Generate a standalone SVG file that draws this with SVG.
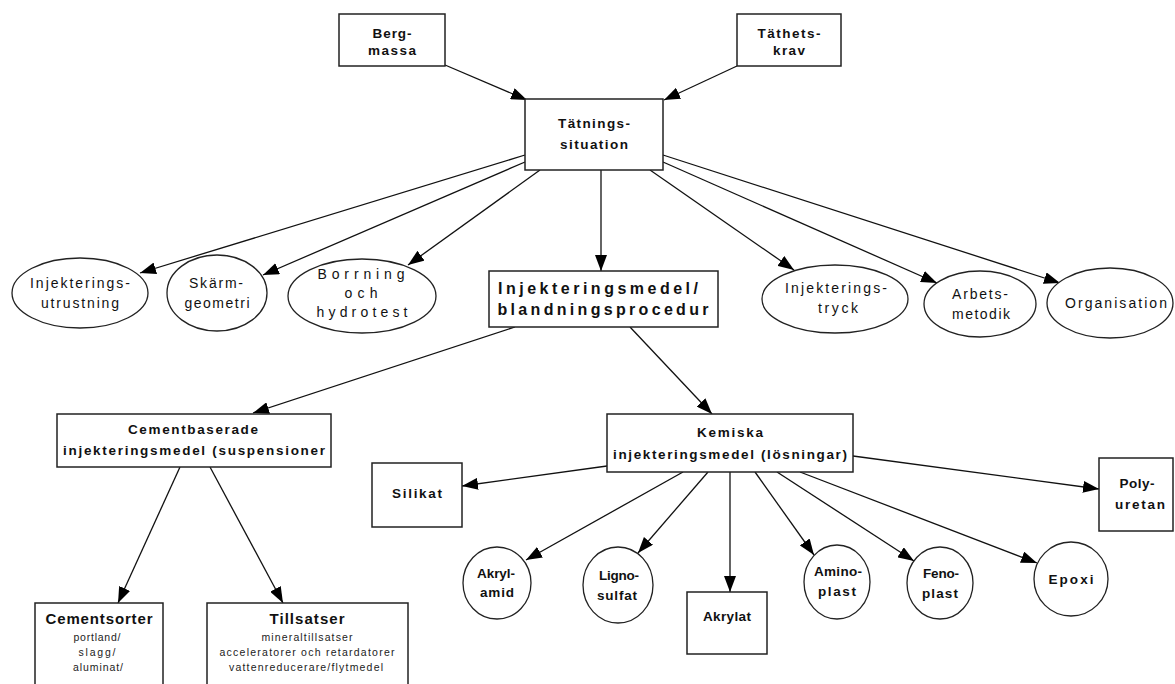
<svg xmlns="http://www.w3.org/2000/svg" width="1175" height="684" viewBox="0 0 1175 684">
<style>
.box{fill:#fff;stroke:#222;stroke-width:1.5}
.ell{fill:#fff;stroke:#222;stroke-width:1.3}
.b{font-family:"Liberation Sans",Arial,sans-serif;font-weight:bold;font-size:13.5px;fill:#111;text-anchor:middle}
.big{font-size:16px}
.mid{font-size:15px}
.r{font-family:"Liberation Sans",Arial,sans-serif;font-size:14px;fill:#111;text-anchor:middle}
.s{font-family:"Liberation Sans",Arial,sans-serif;font-size:10.5px;fill:#222;text-anchor:middle}
.c line{stroke:#111;stroke-width:1.3;marker-end:url(#ah)}
</style>
<defs>
<marker id="ah" viewBox="0 0 16 12" refX="16" refY="6" markerWidth="16" markerHeight="12" markerUnits="userSpaceOnUse" orient="auto">
<path d="M0,0 L16,6 L0,12 z" fill="#000"/>
</marker>
</defs>
<rect width="1175" height="684" fill="#fff"/>
<g class="c" id="connectors">
<line x1="445" y1="65" x2="527" y2="100"/>
<line x1="737" y1="66" x2="664" y2="100"/>
<line x1="525" y1="155" x2="140" y2="273"/>
<line x1="525" y1="162" x2="263" y2="275"/>
<line x1="540" y1="170" x2="408" y2="265"/>
<line x1="601" y1="170" x2="601" y2="271"/>
<line x1="650" y1="170" x2="794" y2="270"/>
<line x1="663" y1="162" x2="937" y2="283"/>
<line x1="663" y1="155" x2="1060" y2="283"/>
<line x1="515" y1="327" x2="253" y2="413"/>
<line x1="630" y1="327" x2="712" y2="414"/>
<line x1="180" y1="467" x2="118" y2="603"/>
<line x1="210" y1="467" x2="283" y2="603"/>
<line x1="607" y1="466" x2="462" y2="486"/>
<line x1="853" y1="456" x2="1099" y2="489"/>
<line x1="683" y1="472" x2="526" y2="560"/>
<line x1="708" y1="472" x2="638" y2="553"/>
<line x1="730" y1="472" x2="730" y2="592"/>
<line x1="755" y1="472" x2="814" y2="555"/>
<line x1="777" y1="472" x2="914" y2="561"/>
<line x1="800" y1="472" x2="1037" y2="563"/>
</g>
<g id="bergmassa">
<rect class="box" x="339" y="14" width="106" height="52"/>
<text class="b" x="392" y="38" textLength="39">Berg-</text>
<text class="b" x="392" y="55" textLength="48">massa</text>
</g>
<g id="tathetskrav">
<rect class="box" x="737" y="14" width="104" height="52"/>
<text class="b" x="789" y="38" textLength="63">Täthets-</text>
<text class="b" x="789" y="55" textLength="32">krav</text>
</g>
<g id="tatningssituation">
<rect class="box" x="525" y="99" width="138" height="71"/>
<text class="b" x="594" y="128" textLength="72">Tätnings-</text>
<text class="b" x="594" y="149" textLength="68">situation</text>
</g>
<g id="injutrustning">
<ellipse class="ell" cx="80" cy="293" rx="68" ry="35"/>
<text class="r" x="80" y="288" textLength="100">Injekterings-</text>
<text class="r" x="80" y="308" textLength="78">utrustning</text>
</g>
<g id="skarmgeometri">
<ellipse class="ell" cx="217" cy="293" rx="50" ry="38"/>
<text class="r" x="216" y="288" textLength="54">Skärm-</text>
<text class="r" x="217" y="308" textLength="65">geometri</text>
</g>
<g id="borrning">
<ellipse class="ell" cx="362" cy="296" rx="74" ry="37"/>
<text class="r" x="361" y="279" textLength="87">Borrning</text>
<text class="r" x="361" y="298" textLength="33">och</text>
<text class="r" x="362" y="317" textLength="91">hydrotest</text>
</g>
<g id="injmedel">
<rect class="box" x="489" y="271" width="229" height="56"/>
<text class="b big" x="598" y="294" textLength="200">Injekteringsmedel/</text>
<text class="b big" x="603" y="315" textLength="211">blandningsprocedur</text>
</g>
<g id="injtryck">
<ellipse class="ell" cx="835" cy="299" rx="73" ry="34"/>
<text class="r" x="836" y="293" textLength="102">Injekterings-</text>
<text class="r" x="838" y="313" textLength="40">tryck</text>
</g>
<g id="arbetsmetodik">
<ellipse class="ell" cx="980" cy="304" rx="56" ry="33"/>
<text class="r" x="980" y="299" textLength="56">Arbets-</text>
<text class="r" x="981" y="319" textLength="58">metodik</text>
</g>
<g id="organisation">
<ellipse class="ell" cx="1110" cy="303" rx="63" ry="35"/>
<text class="r" x="1116" y="308" textLength="102">Organisation</text>
</g>
<g id="cementbaserade">
<rect class="box" x="57" y="414" width="274" height="53"/>
<text class="b" x="193" y="434" textLength="130">Cementbaserade</text>
<text class="b" x="194" y="455" textLength="262">injekteringsmedel (suspensioner</text>
</g>
<g id="kemiska">
<rect class="box" x="607" y="414" width="246" height="58"/>
<text class="b" x="730" y="437" textLength="66">Kemiska</text>
<text class="b" x="730" y="459" textLength="234">injekteringsmedel (lösningar)</text>
</g>
<g id="silikat">
<rect class="box" x="372" y="463" width="90" height="64"/>
<text class="b" x="417" y="498" textLength="50">Silikat</text>
</g>
<g id="polyuretan">
<rect class="box" x="1099" y="458" width="74" height="73"/>
<text class="b" x="1137" y="488" textLength="35">Poly-</text>
<text class="b" x="1140" y="509" textLength="50">uretan</text>
</g>
<g id="akrylamid">
<ellipse class="ell" cx="497" cy="583" rx="34" ry="36"/>
<text class="b" x="496" y="578" textLength="38">Akryl-</text>
<text class="b" x="497" y="597" textLength="34">amid</text>
</g>
<g id="lignosulfat">
<ellipse class="ell" cx="618" cy="585" rx="35" ry="38"/>
<text class="b" x="619" y="580" textLength="40">Ligno-</text>
<text class="b" x="617" y="600" textLength="40">sulfat</text>
</g>
<g id="akrylat">
<rect class="box" x="687" y="592" width="80" height="62"/>
<text class="b" x="727" y="621" textLength="48">Akrylat</text>
</g>
<g id="aminoplast">
<ellipse class="ell" cx="837" cy="582" rx="33" ry="37"/>
<text class="b" x="838" y="576" textLength="48">Amino-</text>
<text class="b" x="837" y="596" textLength="38">plast</text>
</g>
<g id="fenoplast">
<ellipse class="ell" cx="940" cy="583" rx="33" ry="36"/>
<text class="b" x="941" y="578" textLength="36">Feno-</text>
<text class="b" x="940" y="598" textLength="36">plast</text>
</g>
<g id="epoxi">
<ellipse class="ell" cx="1071" cy="579" rx="37" ry="37"/>
<text class="b" x="1071" y="584" textLength="45">Epoxi</text>
</g>
<g id="cementsorter">
<rect class="box" x="35" y="603" width="128" height="90"/>
<text class="b mid" x="99" y="624" textLength="107">Cementsorter</text>
<text class="s" x="97" y="641" textLength="47">portland/</text>
<text class="s" x="97" y="656" textLength="37">slagg/</text>
<text class="s" x="98" y="671" textLength="50">aluminat/</text>
</g>
<g id="tillsatser">
<rect class="box" x="207" y="603" width="201" height="90"/>
<text class="b mid" x="307" y="624" textLength="75">Tillsatser</text>
<text class="s" x="307" y="641" textLength="91">mineraltillsatser</text>
<text class="s" x="307" y="656" textLength="175">acceleratorer och retardatorer</text>
<text class="s" x="306" y="671" textLength="154">vattenreducerare/flytmedel</text>
</g>
</svg>
